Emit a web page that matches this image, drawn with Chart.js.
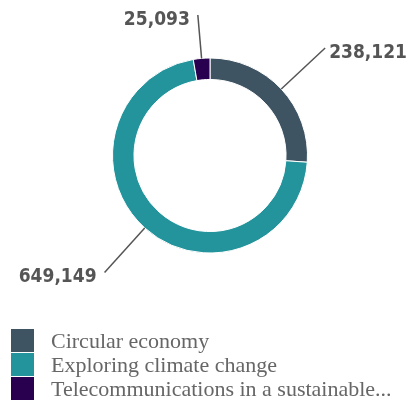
<!DOCTYPE html>
<html>
<head>
<meta charset="utf-8">
<script src="https://cdn.jsdelivr.net/npm/chart.js@4"></script>
<style>
  html, body { margin: 0; padding: 0; background: #fff; }
  #wrap { width: 412px; height: 400px; position: relative; }
</style>
</head>
<body>
<div id="wrap"><canvas id="donut"></canvas></div>
<script>
const labels = ["Circular economy", "Exploring climate change", "Telecommunications in a sustainable..."];
const values = [238121, 649149, 25093];
const colors = ["#3f5463", "#23949c", "#29004f"];

// leader lines + value labels outside the ring
const leaderLabels = {
  id: "leaderLabels",
  afterDatasetsDraw(chart) {
    const ctx = chart.ctx;
    const meta = chart.getDatasetMeta(0);
    ctx.save();
    ctx.font = "bold 19px 'DejaVu Sans Condensed'";
    ctx.fillStyle = "#555555";
    ctx.strokeStyle = "#555555";
    ctx.lineWidth = 1.5;
    ctx.textBaseline = "middle";
    meta.data.forEach((arc, i) => {
      const mid = (arc.startAngle + arc.endAngle) / 2;
      const r0 = arc.outerRadius;
      const sx = arc.x + Math.cos(mid) * r0;
      const sy = arc.y + Math.sin(mid) * r0;
      let r1 = r0 + 60;
      let ex = arc.x + Math.cos(mid) * r1;
      let ey = arc.y + Math.sin(mid) * r1;
      if (ey < 15) {
        const k = (sy - 15) / (sy - ey);
        ex = sx + (ex - sx) * k;
        ey = 15;
      }
      ctx.beginPath();
      ctx.moveTo(sx, sy);
      ctx.lineTo(ex, ey);
      ctx.stroke();
      const txt = values[i].toLocaleString("en-US");
      if (Math.cos(mid) >= 0.2) {
        ctx.textAlign = "left";
        ctx.fillText(txt, ex + 4, ey + 5);
      } else {
        ctx.textAlign = "right";
        ctx.fillText(txt, ex - 8, ey + 5);
      }
    });
    ctx.restore();
  }
};

// stacked legend at the bottom left
const stackLegend = {
  id: "stackLegend",
  afterDraw(chart) {
    const ctx = chart.ctx;
    ctx.save();
    ctx.font = "22px 'Liberation Serif'";
    ctx.textBaseline = "middle";
    ctx.textAlign = "left";
    chart.data.labels.forEach((lab, i) => {
      const top = 329 + i * 24;
      ctx.fillStyle = chart.data.datasets[0].backgroundColor[i];
      ctx.fillRect(11, top, 23, 23);
      ctx.fillStyle = "#666666";
      ctx.fillText(lab, 51, top + 13);
    });
    ctx.restore();
  }
};

new Chart(document.getElementById("donut"), {
  type: "doughnut",
  data: {
    labels: labels,
    datasets: [{
      data: values,
      backgroundColor: colors,
      borderColor: "#ffffff",
      borderWidth: 1,
      hoverOffset: 0
    }]
  },
  options: {
    responsive: true,
    maintainAspectRatio: false,
    animation: false,
    cutout: "78%",
    layout: { padding: { top: 57, bottom: 146, left: 112, right: 104 } },
    plugins: {
      legend: { display: false },
      tooltip: { enabled: false }
    }
  },
  plugins: [leaderLabels, stackLegend]
});
</script>
</body>
</html>
